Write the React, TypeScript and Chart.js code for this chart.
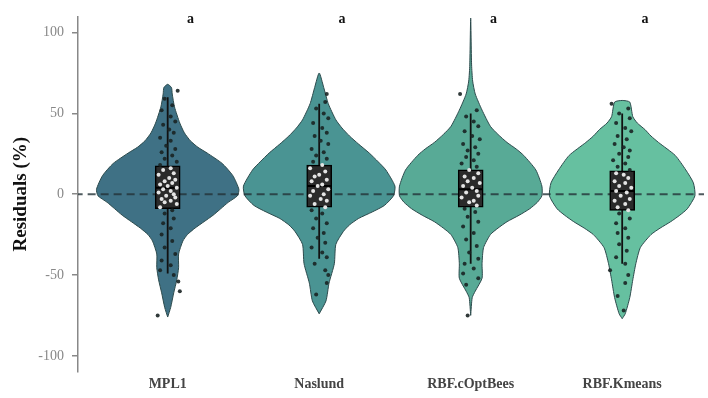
import React, { useEffect, useRef } from "react";
import { Chart, registerables } from "chart.js";

Chart.register(...registerables);

const categories = ["MPL1", "Naslund", "RBF.cOptBees", "RBF.Kmeans"];
const yTickValues = [-100, -50, 0, 50, 100];
const groupLetters = ["a", "a", "a", "a"];
const letterY = 105.7;
const letterOffset = 0.15;
const violinColors = ["#3f7185", "#4a9493", "#58aa96", "#66c0a0"];

// violin outlines: residual levels (top to bottom) and half-widths (category units)
const mpl1Levels = [68, 66, 62, 54, 44, 38, 33, 29, 25.5, 19, 11.5, 3, -1, -5, -9, -13, -17, -21, -25, -29, -37, -45.5, -53, -61, -70, -76];
const mpl1Widths = [0, 0.025, 0.03, 0.045, 0.08, 0.11, 0.15, 0.2, 0.26, 0.36, 0.43, 0.47, 0.46, 0.4, 0.35, 0.3, 0.24, 0.18, 0.13, 0.1, 0.072, 0.072, 0.06, 0.04, 0.02, 0];
const naslundLevels = [75, 66, 56, 46, 41, 36, 31, 25.5, 20, 15, 5, -1, -7, -11, -15, -19, -23, -31, -43, -55, -66, -74];
const naslundWidths = [0, 0.03, 0.06, 0.11, 0.15, 0.2, 0.26, 0.33, 0.39, 0.44, 0.5, 0.49, 0.43, 0.35, 0.26, 0.2, 0.16, 0.11, 0.1, 0.065, 0.045, 0];
const cOptLevels = [109, 80, 70, 62, 52, 42, 37, 32, 28, 24, 15, 5, -1, -5, -9, -13, -17, -21, -25, -33, -43, -52, -60, -64, -75];
const cOptWidths = [0, 0.006, 0.013, 0.03, 0.075, 0.13, 0.18, 0.24, 0.3, 0.35, 0.43, 0.47, 0.47, 0.44, 0.39, 0.32, 0.24, 0.18, 0.13, 0.085, 0.075, 0.075, 0.03, 0.01, 0];
const kmeansLevels = [58, 57, 48, 44, 40, 36, 32, 24, 15, 7, -1, -9, -13, -17, -21, -25, -33, -43, -53, -64, -74, -77];
const kmeansWidths = [0, 0.05, 0.07, 0.1, 0.15, 0.19, 0.24, 0.35, 0.42, 0.47, 0.48, 0.43, 0.38, 0.32, 0.25, 0.19, 0.12, 0.09, 0.07, 0.05, 0.02, 0];

// box plot statistics
const boxQ1 = [-9, -8, -8, -10];
const boxQ3 = [17.5, 18, 15, 14.5];
const boxMedian = [4, 5, 3, 2];
const whiskerLow = [-49, -40, -43, -43];
const whiskerHigh = [60, 56, 50, 50];

// jittered observations: [residual, horizontal jitter]
const mpl1Points = [
  [64, 0.066], [59, -0.02], [55, 0.03], [52, -0.04], [48, 0.02], [45, 0.05], [43, -0.03], [40, 0.01], [38, 0.04],
  [35, -0.05], [33, 0.02], [30, -0.01], [28, 0.05], [26, -0.04], [24, 0.03], [22, -0.02], [20, 0.06], [18, -0.05],
  [16, 0.02], [15, -0.03], [13, 0.04], [12, -0.06], [10, 0.01], [9, 0.05], [8, -0.02], [7, 0.03], [6, -0.05], [5, 0.0],
  [4, 0.06], [3, -0.03], [2, 0.02], [1, -0.06], [0, 0.04], [-1, -0.01], [-2, 0.05], [-3, -0.04], [-4, 0.02], [-5, -0.02],
  [-6, 0.06], [-8, -0.05], [-10, 0.03], [-12, -0.02], [-15, 0.04], [-18, -0.03], [-21, 0.02], [-25, -0.04], [-29, 0.03],
  [-33, -0.02], [-37, 0.05], [-41, -0.04], [-44, 0.02], [-47, -0.05], [-50, 0.04], [-54, 0.07], [-60, 0.08], [-75, -0.066],
];
const naslundPoints = [
  [62, 0.05], [57, 0.04], [53, -0.02], [50, 0.03], [47, 0.06], [44, -0.04], [41, 0.02], [38, 0.05], [36, -0.03],
  [33, 0.01], [31, 0.06], [28, -0.05], [26, 0.03], [24, -0.02], [22, 0.05], [20, -0.04], [18, 0.02], [16, -0.06],
  [14, 0.04], [12, 0.0], [11, -0.03], [9, 0.05], [8, -0.05], [6, 0.02], [5, -0.01], [3, 0.06], [2, -0.04], [0, 0.03],
  [-1, -0.06], [-3, 0.01], [-4, 0.05], [-6, -0.03], [-8, 0.04], [-10, -0.05], [-12, 0.02], [-15, -0.02], [-18, 0.05],
  [-21, -0.04], [-24, 0.03], [-27, -0.01], [-30, 0.04], [-33, -0.05], [-36, 0.02], [-39, 0.05], [-43, -0.03],
  [-47, 0.04], [-50, 0.06], [-55, 0.05], [-62, -0.02],
];
const cOptPoints = [
  [62, -0.07], [52, 0.04], [48, -0.03], [45, 0.02], [42, 0.05], [39, -0.04], [36, 0.01], [34, 0.06], [31, -0.05],
  [29, 0.03], [27, -0.02], [25, 0.05], [23, -0.03], [21, 0.02], [19, -0.06], [17, 0.04], [15, -0.01], [13, 0.05],
  [11, -0.04], [10, 0.02], [8, -0.02], [7, 0.06], [5, -0.05], [4, 0.01], [2, 0.04], [1, -0.03], [-1, 0.05], [-2, -0.06],
  [-4, 0.02], [-5, -0.01], [-7, 0.04], [-9, -0.04], [-11, 0.03], [-14, -0.02], [-17, 0.05], [-20, -0.05], [-24, 0.02],
  [-28, -0.03], [-32, 0.04], [-36, -0.01], [-40, 0.05], [-43, -0.04], [-46, 0.02], [-49, -0.05], [-52, 0.05],
  [-56, -0.03], [-75, -0.02],
];
const kmeansPoints = [
  [56, -0.07], [53, 0.04], [50, -0.02], [47, 0.05], [44, -0.04], [41, 0.02], [39, 0.06], [36, -0.03], [34, 0.03],
  [31, -0.05], [29, 0.01], [27, 0.05], [25, -0.02], [23, 0.04], [21, -0.06], [19, 0.02], [17, -0.03], [15, 0.05],
  [13, -0.04], [12, 0.01], [10, 0.04], [8, -0.05], [7, 0.02], [5, -0.02], [4, 0.06], [2, -0.04], [1, 0.03], [-1, -0.01],
  [-3, 0.05], [-4, -0.05], [-6, 0.02], [-8, -0.03], [-10, 0.04], [-12, -0.02], [-15, 0.05], [-18, -0.04], [-21, 0.02],
  [-24, -0.03], [-27, 0.04], [-31, -0.02], [-35, 0.03], [-39, -0.04], [-43, 0.02], [-47, -0.08], [-50, 0.04],
  [-55, 0.02], [-63, -0.03], [-72, 0.01],
];

const SERIF = '"Liberation Serif", "Times New Roman", serif';

const letterPlugin = {
  id: "groupLetters",
  afterDatasetsDraw(chart: any) {
    const { ctx, scales } = chart;
    const x = scales.x;
    const y = scales.y;
    ctx.save();
    ctx.font = `bold 14px ${SERIF}`;
    ctx.fillStyle = "#111";
    ctx.textAlign = "center";
    ctx.textBaseline = "alphabetic";
    groupLetters.forEach((t, i) => {
      ctx.fillText(t, x.getPixelForValue(i + letterOffset), y.getPixelForValue(letterY));
    });
    ctx.restore();
  },
};

export default function App() {
  const ref = useRef<HTMLCanvasElement>(null);

  useEffect(() => {
    document.body.style.margin = "0";
    const canvas = ref.current;
    if (!canvas) return;

    const levelsAll = [mpl1Levels, naslundLevels, cOptLevels, kmeansLevels];
    const widthsAll = [mpl1Widths, naslundWidths, cOptWidths, kmeansWidths];
    const pointsAll = [mpl1Points, naslundPoints, cOptPoints, kmeansPoints];

    const datasets: any[] = [];

    categories.forEach((_, i) => {
      const lv = levelsAll[i];
      const wd = widthsAll[i];
      const outline: { x: number; y: number }[] = [];
      for (let k = lv.length - 1; k >= 0; k--) outline.push({ x: i - wd[k], y: lv[k] });
      for (let k = 0; k < lv.length; k++) {
        if (k === 0 && wd[k] === 0) continue;
        if (k === lv.length - 1 && wd[k] === 0) continue;
        outline.push({ x: i + wd[k], y: lv[k] });
      }
      outline.push({ x: i - wd[lv.length - 1], y: lv[lv.length - 1] });
      datasets.push({
        type: "line",
        data: outline,
        fill: "shape",
        backgroundColor: violinColors[i],
        borderColor: "#2c4a4c",
        borderWidth: 1,
        pointRadius: 0,
        tension: 0.2,
        order: 10,
      });
    });

    datasets.push({
      type: "line",
      data: [
        { x: -0.7, y: 0 },
        { x: 3.7, y: 0 },
      ],
      borderColor: "rgba(35,50,55,0.8)",
      borderWidth: 2,
      borderDash: [8, 5],
      pointRadius: 0,
      fill: false,
      order: 9,
    });

    categories.forEach((_, i) => {
      datasets.push({
        type: "line",
        data: [
          { x: i, y: whiskerLow[i] },
          { x: i, y: whiskerHigh[i] },
        ],
        borderColor: "#111",
        borderWidth: 1.8,
        pointRadius: 0,
        fill: false,
        order: 8,
      });
    });

    datasets.push({
      type: "bar",
      data: categories.map((_, i) => ({ x: i, y: [boxQ1[i], boxQ3[i]] })),
      barThickness: 25,
      backgroundColor: "#2b2b2b",
      borderColor: "#000",
      borderWidth: 1.5,
      borderSkipped: false,
      order: 7,
    });

    categories.forEach((_, i) => {
      datasets.push({
        type: "line",
        data: [
          { x: i - 0.08, y: boxMedian[i] },
          { x: i + 0.08, y: boxMedian[i] },
        ],
        borderColor: "#000",
        borderWidth: 2,
        pointRadius: 0,
        fill: false,
        order: 6,
      });
    });

    const pts: any[] = [];
    pointsAll.forEach((arr, g) => {
      arr.forEach(([v, j]) => pts.push({ x: g + j, y: v, g }));
    });
    const ptColor = (ctx: any) => {
      const r = ctx.raw;
      if (!r) return "rgba(25,35,35,0.9)";
      return r.y >= boxQ1[r.g] && r.y <= boxQ3[r.g] ? "#e4e4e4" : "rgba(25,35,35,0.9)";
    };
    datasets.push({
      type: "scatter",
      data: pts,
      pointRadius: 2,
      pointBorderWidth: 0,
      pointBackgroundColor: ptColor,
      pointBorderColor: ptColor,
      backgroundColor: ptColor,
      order: 1,
    });

    const chart = new Chart(canvas, {
      type: "scatter",
      data: { datasets },
      options: {
        responsive: false,
        animation: false,
        devicePixelRatio: 1,
        layout: { padding: { top: 12, right: 2, left: 0, bottom: 0 } },
        plugins: { legend: { display: false }, tooltip: { enabled: false } },
        scales: {
          x: {
            type: "linear",
            min: -0.592,
            max: 3.54,
            offset: false,
            grid: { display: false, drawTicks: false, offset: false },
            border: { display: false },
            afterBuildTicks: (s: any) => {
              s.ticks = categories.map((_, i) => ({ value: i }));
            },
            afterFit: (s: any) => {
              s.height = 26;
            },
            ticks: {
              autoSkip: false,
              maxRotation: 0,
              padding: 4,
              color: "#444",
              font: { family: SERIF, size: 14, weight: "bold" },
              callback: (v: any) => categories[Math.round(Number(v))] ?? "",
            },
          },
          y: {
            type: "linear",
            min: -110,
            max: 110,
            beginAtZero: false,
            afterBuildTicks: (s: any) => {
              s.ticks = yTickValues.map((v) => ({ value: v }));
            },
            afterFit: (s: any) => {
              s.width = 78;
            },
            grid: { drawOnChartArea: false, drawTicks: true, tickLength: 6, color: "#888", lineWidth: 1.5 },
            border: { display: true, color: "#888", width: 1.5 },
            ticks: { padding: 8, color: "#888", font: { family: SERIF, size: 14 } },
            title: {
              display: true,
              text: "Residuals (%)",
              color: "#111",
              font: { family: SERIF, size: 19, weight: "bold" },
              padding: { top: 10, bottom: 0 },
            },
          },
        },
      } as any,
      plugins: [letterPlugin],
    });

    return () => chart.destroy();
  }, []);

  return (
    <div style={{ width: 708, height: 398 }}>
      <canvas ref={ref} width={708} height={398} style={{ display: "block" }} />
    </div>
  );
}
